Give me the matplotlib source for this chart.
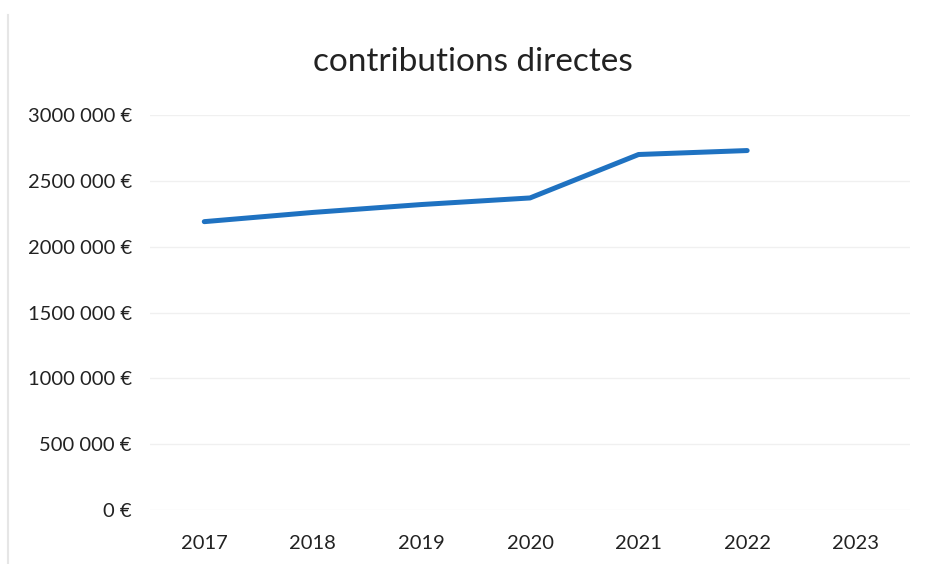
import matplotlib.pyplot as plt
from matplotlib.lines import Line2D

annees = ["2017", "2018", "2019", "2020", "2021", "2022", "2023"]
contributions = [2190000, 2260000, 2320000, 2370000, 2700000, 2730000]
graduations = [0, 500000, 1000000, 1500000, 2000000, 2500000, 3000000]
etiquettes_y = ["0 €", "500 000 €", "1000 000 €", "1500 000 €",
                "2000 000 €", "2500 000 €", "3000 000 €"]

plt.rcParams["font.family"] = ["Lato", "DejaVu Sans"]

fig = plt.figure(figsize=(9.27, 5.64), dpi=100)
ax = fig.add_axes([150 / 927, 1 - 510 / 564, 760 / 927, 395 / 564])

x = list(range(len(annees)))
ax.plot(x[:len(contributions)], contributions, color="#1f72c1",
        linewidth=3.6, solid_capstyle="round", solid_joinstyle="round")

ax.set_xlim(-0.5, len(annees) - 0.5)
ax.set_ylim(0, 3000000)
ax.set_yticks(graduations)
ax.set_yticklabels(etiquettes_y)
ax.set_xticks(x)
ax.set_xticklabels(annees)
ax.tick_params(axis="both", length=0, labelsize=14.5, colors="#222222")
ax.tick_params(axis="y", pad=13)
ax.tick_params(axis="x", pad=18)
ax.grid(axis="y", color="#f0f0f0", linewidth=1)
ax.set_axisbelow(True)
for s in ax.spines.values():
    s.set_visible(False)

fig.text(473 / 927, 1 - 62 / 564, "contributions directes", ha="center",
         va="center", fontsize=24, color="#222222")

# cadre gris clair à gauche
fig.add_artist(Line2D([8 / 927, 8 / 927], [0, 1 - 15 / 564],
                      transform=fig.transFigure, color="#e6e6e6", linewidth=1.5))

fig.savefig("out.png", dpi=100)
